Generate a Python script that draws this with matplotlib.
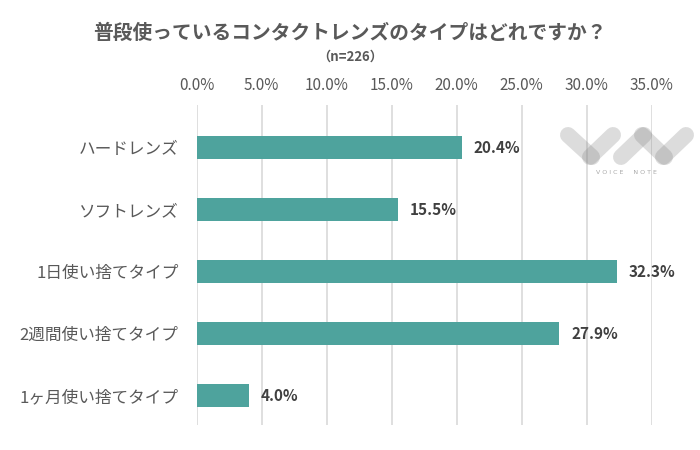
import matplotlib
matplotlib.use("Agg")
import matplotlib.pyplot as plt

plt.rcParams['font.family'] = ['Noto Sans CJK JP', 'DejaVu Sans']

categories = ["ハードレンズ", "ソフトレンズ", "1日使い捨てタイプ", "2週間使い捨てタイプ", "1ヶ月使い捨てタイプ"]
values = [20.4, 15.5, 32.3, 27.9, 4.0]
ticks = [0, 5, 10, 15, 20, 25, 30, 35]

bar_color = "#4ea39d"
text_color = "#595959"

fig = plt.figure(figsize=(7, 4.5), dpi=100)
ax = fig.add_axes([0.281, 0.056, 0.650, 0.711])

ypos = list(range(len(categories)))
ax.barh(ypos, values, height=0.36, color=bar_color, zorder=2)
for y, v in zip(ypos, values):
    ax.text(v + 0.9, y, f"{v:.1f}%", va="center", ha="left", fontsize=11,
            fontweight="bold", color="#404040")

ax.set_xlim(0, 35)
ax.set_ylim(4.47, -0.69)
ax.set_xticks(ticks)
ax.set_xticklabels([f"{t:.1f}%" for t in ticks], fontsize=11, color=text_color)
ax.xaxis.tick_top()
ax.tick_params(axis="x", length=0, pad=8)
ax.set_yticks(ypos)
ax.set_yticklabels(categories, fontsize=12, color=text_color)
ax.tick_params(axis="y", length=0, pad=13)
ax.grid(axis="x", color="#d9d9d9", linewidth=1.2, zorder=0)
for s in ax.spines.values():
    s.set_visible(False)

fig.text(0.5, 0.927, "普段使っているコンタクトレンズのタイプはどれですか？", ha="center",
         va="center", fontsize=14.2, fontweight="bold", color=text_color)
fig.text(0.5, 0.875, "（n=226）", ha="center", va="center", fontsize=9.5,
         fontweight="bold", color=text_color)

# watermark logo (pixel coordinates)
lax = fig.add_axes([555 / 700, 1 - 180 / 450, 140 / 700, 65 / 450])
lax.set_xlim(555, 695)
lax.set_ylim(180, 115)
lax.axis("off")
pills = [((568, 592), (135, 157)), ((590, 613), (157, 135)), ((621, 644), (157, 135)),
         ((642, 665), (135, 157)), ((663, 686), (157, 135))]
for xs, ys in pills:
    lax.plot(xs, ys, color="#8c8c8c", alpha=0.3, linewidth=11.5, solid_capstyle="round")
lax.text(626, 172, "V O I C E     N O T E", ha="center", va="center", fontsize=4.5,
         color="#a8a8a8", family="DejaVu Sans")

fig.savefig("out.png", dpi=100)
